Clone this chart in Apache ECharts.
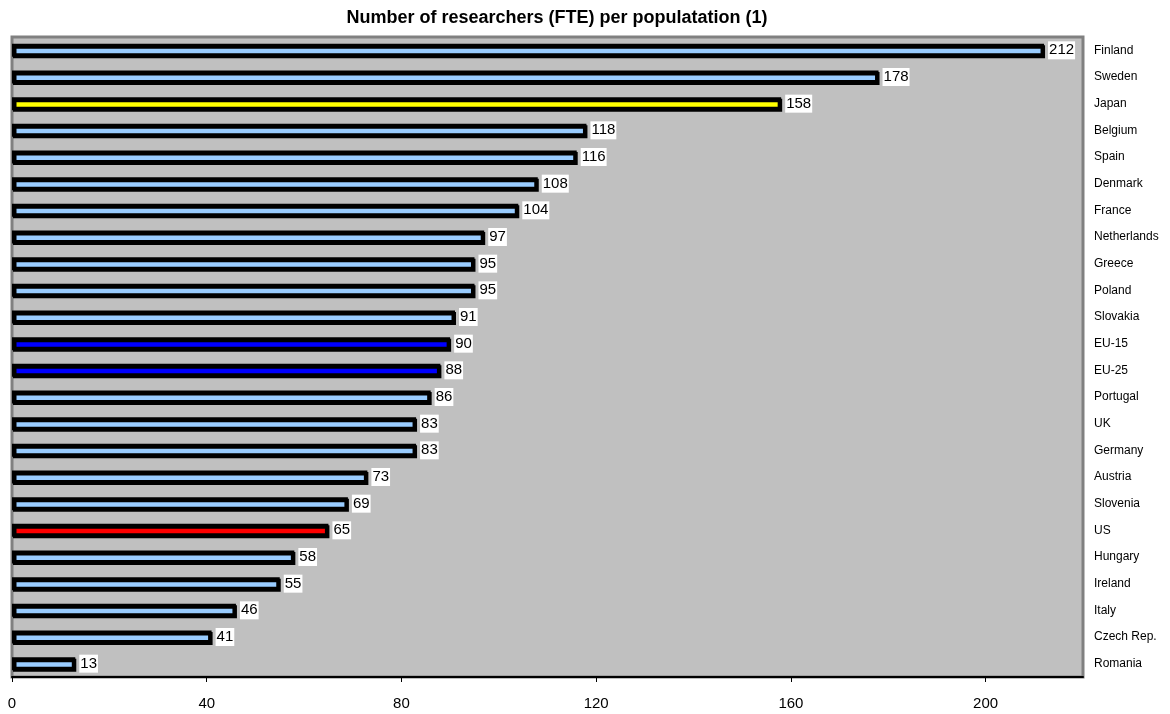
<!DOCTYPE html>
<html>
<head>
<meta charset="utf-8">
<script src="https://cdn.jsdelivr.net/npm/echarts@6/dist/echarts.min.js"></script>
<style>html,body{margin:0;padding:0;background:#fff;}#c{width:1170px;height:714px;}</style>
</head>
<body>
<div id="c"></div>
<script>
var categories = ["Finland","Sweden","Japan","Belgium","Spain","Denmark","France","Netherlands","Greece","Poland","Slovakia","EU-15","EU-25","Portugal","UK","Germany","Austria","Slovenia","US","Hungary","Ireland","Italy","Czech Rep.","Romania"];
var values = [212,178,158,118,116,108,104,97,95,95,91,90,88,86,83,83,73,69,65,58,55,46,41,13];
var barColors = {"Japan":"#ffff00","EU-15":"#0000ff","EU-25":"#0000ff","US":"#ff0000"};
var defaultColor = "#99ccff";
var xTicks = [0,40,80,120,160,200];

var chart = echarts.init(document.getElementById('c'));
var data = values.map(function(v,i){
  return {value:v, itemStyle:{color: barColors[categories[i]] || defaultColor}};
});
chart.setOption({
  animation:false,
  backgroundColor:'#ffffff',
  title:{text:'Number of researchers (FTE) per populatation (1)',left:552,textAlign:'center',top:4,
    textStyle:{fontFamily:'Liberation Sans, Arial',fontSize:18,fontWeight:'bold',color:'#000'}},
  grid:{left:12,right:87,top:37,bottom:37,show:true,backgroundColor:'#c0c0c0',borderColor:'#808080',borderWidth:3},
  xAxis:{type:'value',min:0,max:220,interval:40,
    axisLine:{show:true,lineStyle:{color:'#000',width:2}},
    axisTick:{show:true,length:5,customValues:xTicks,lineStyle:{color:'#000'}},
    splitLine:{show:false},
    axisLabel:{margin:19,customValues:xTicks,fontFamily:'Liberation Sans, Arial',fontSize:15,color:'#000'}},
  yAxis:{type:'category',data:categories,inverse:true,position:'right',
    axisLine:{show:false},axisTick:{show:false},
    axisLabel:{margin:11,fontFamily:'Liberation Sans, Arial',fontSize:12,color:'#000'}},
  series:[{type:'bar',data:data,barWidth:13,
    itemStyle:{borderColor:'#000',borderWidth:3.5,shadowColor:'#000',shadowOffsetX:1,shadowOffsetY:1.5,shadowBlur:0},
    label:{show:true,position:'right',distance:4,backgroundColor:'#fff',padding:[2,1,1,1],
      fontFamily:'Liberation Sans, Arial',fontSize:15,color:'#000'}}]
});
</script>
</body>
</html>
